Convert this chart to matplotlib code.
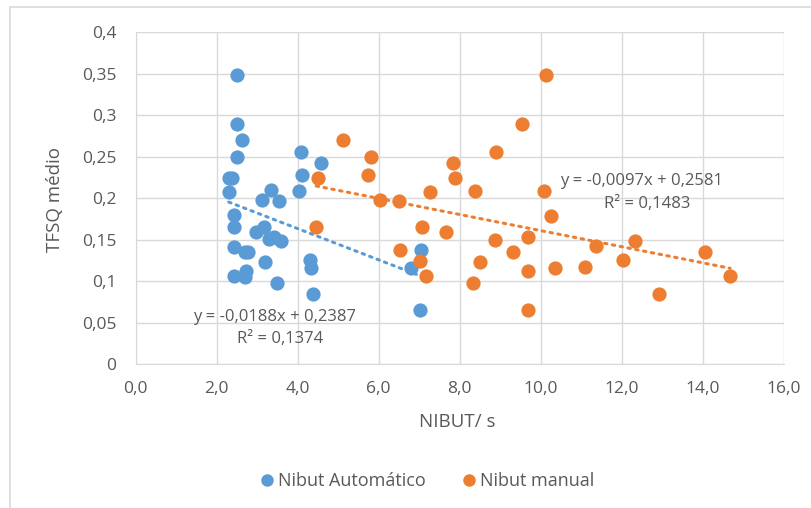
import numpy as np
import matplotlib.pyplot as plt
from matplotlib.patches import Rectangle
from matplotlib.lines import Line2D

# Nibut automatico (blue)
auto_x = [2.50, 2.50, 2.62, 2.50, 2.30, 2.37, 2.31, 2.44, 2.44, 2.44, 2.44,
          2.71, 2.78, 2.73, 2.71, 2.97, 3.12, 3.34, 3.54, 3.17, 3.29, 3.41,
          3.60, 3.20, 3.48, 4.09, 4.58, 4.12, 4.03, 4.31, 4.33, 4.38, 6.79,
          7.05, 7.01]
auto_y = [0.349, 0.290, 0.270, 0.250, 0.225, 0.224, 0.207, 0.180, 0.166, 0.141, 0.106,
          0.135, 0.135, 0.112, 0.105, 0.159, 0.198, 0.210, 0.197, 0.166, 0.151, 0.153,
          0.148, 0.123, 0.098, 0.256, 0.243, 0.228, 0.209, 0.126, 0.116, 0.085, 0.116,
          0.138, 0.065]

# Nibut manual (orange)
man_x = [5.12, 5.81, 5.73, 4.50, 6.04, 6.51, 4.46, 7.27, 7.07, 6.53, 7.02, 7.17,
         7.84, 7.89, 8.38, 7.67, 8.89, 8.87, 8.50, 8.33, 9.33, 9.68, 9.70, 9.69,
         9.55, 10.14, 10.09, 10.25, 10.35, 11.10, 11.37, 12.04, 12.33, 12.93,
         14.07, 14.68]
man_y = [0.270, 0.250, 0.228, 0.224, 0.198, 0.197, 0.166, 0.207, 0.166, 0.138, 0.125, 0.106,
         0.243, 0.225, 0.209, 0.159, 0.256, 0.150, 0.123, 0.098, 0.135, 0.153, 0.112, 0.065,
         0.290, 0.349, 0.209, 0.179, 0.116, 0.117, 0.142, 0.126, 0.148, 0.085,
         0.135, 0.106]

# trendline coefficients (slope, intercept) as printed on the chart
auto_fit = (-0.0188, 0.2387)
man_fit = (-0.0097, 0.2581)

x_ticks = [0, 2, 4, 6, 8, 10, 12, 14, 16]
x_labels = ["0,0", "2,0", "4,0", "6,0", "8,0", "10,0", "12,0", "14,0", "16,0"]
y_ticks = [0, 0.05, 0.1, 0.15, 0.2, 0.25, 0.3, 0.35, 0.4]
y_labels = ["0", "0,05", "0,1", "0,15", "0,2", "0,25", "0,3", "0,35", "0,4"]

BLUE = "#5B9BD5"
ORANGE = "#ED7D31"
TXT = "#595959"
GRID = "#D9D9D9"
W, H = 812, 508

plt.rcParams['font.family'] = ['Open Sans', 'DejaVu Sans']

fig = plt.figure(figsize=(W / 100, H / 100), dpi=100)
# chart-area border (only left and top visible in the crop)
fig.patches.append(Rectangle((10 / W, -0.1), 1.2, 1 - 7 / H + 0.1,
                             transform=fig.transFigure, fill=False,
                             edgecolor=GRID, linewidth=1.2))

ax = fig.add_axes([135.6 / W, (H - 364.3) / H, 648 / W, 332 / H])

ax.scatter(auto_x, auto_y, s=105, color=BLUE, zorder=3, linewidths=0)
ax.scatter(man_x, man_y, s=105, color=ORANGE, zorder=3, linewidths=0)

# trendlines over the data range
for xs, (m, b), c in [(auto_x, auto_fit, BLUE), (man_x, man_fit, ORANGE)]:
    xx = np.array([min(xs), max(xs)])
    ax.plot(xx, m * xx + b, color=c, linewidth=2.2, linestyle=(0, (0.8, 1.8)),
            dash_capstyle="round", zorder=2)

ax.set_xlim(0, 16)
ax.set_ylim(0, 0.4)
ax.set_xticks(x_ticks)
ax.set_xticklabels(x_labels)
ax.set_yticks(y_ticks)
ax.set_yticklabels(y_labels)
ax.tick_params(length=0, labelsize=12.5, colors=TXT)
ax.tick_params(axis="x", pad=12)
ax.tick_params(axis="y", pad=14)
ax.grid(True, color=GRID, linewidth=1)
ax.set_axisbelow(True)
for s in ["top", "right"]:
    ax.spines[s].set_visible(False)
ax.spines["left"].set_color(GRID)
ax.spines["bottom"].set_color(GRID)

fig.text(457 / W, 1 - 422 / H, "NIBUT/ s", fontsize=13.5, color=TXT,
         ha="center", va="center")
fig.text(55 / W, 1 - 200 / H, "TFSQ médio", fontsize=13.5, color=TXT,
         ha="center", va="center", rotation=90)

fig.text(193 / W, 1 - 317 / H, "y = -0,0188x + 0,2387", fontsize=12,
         color=TXT, va="center", ha="left")
fig.text(237 / W, 1 - 339 / H, "R² = 0,1374", fontsize=12,
         color=TXT, va="center", ha="left")
fig.text(560 / W, 1 - 181 / H, "y = -0,0097x + 0,2581", fontsize=12,
         color=TXT, va="center", ha="left")
fig.text(604 / W, 1 - 204 / H, "R² = 0,1483", fontsize=12,
         color=TXT, va="center", ha="left")

handles = [Line2D([], [], marker="o", linestyle="none", markersize=9,
                  markerfacecolor=BLUE, markeredgewidth=0),
           Line2D([], [], marker="o", linestyle="none", markersize=9,
                  markerfacecolor=ORANGE, markeredgewidth=0)]
leg = fig.legend(handles, ["Nibut Automático", "Nibut manual"], loc="center",
                 bbox_to_anchor=(425 / W, 1 - 481 / H), ncol=2, frameon=False,
                 fontsize=13, handletextpad=0.0, columnspacing=1.8,
                 handlelength=1.2)
for t in leg.get_texts():
    t.set_color(TXT)

fig.savefig("out.png", dpi=100)
